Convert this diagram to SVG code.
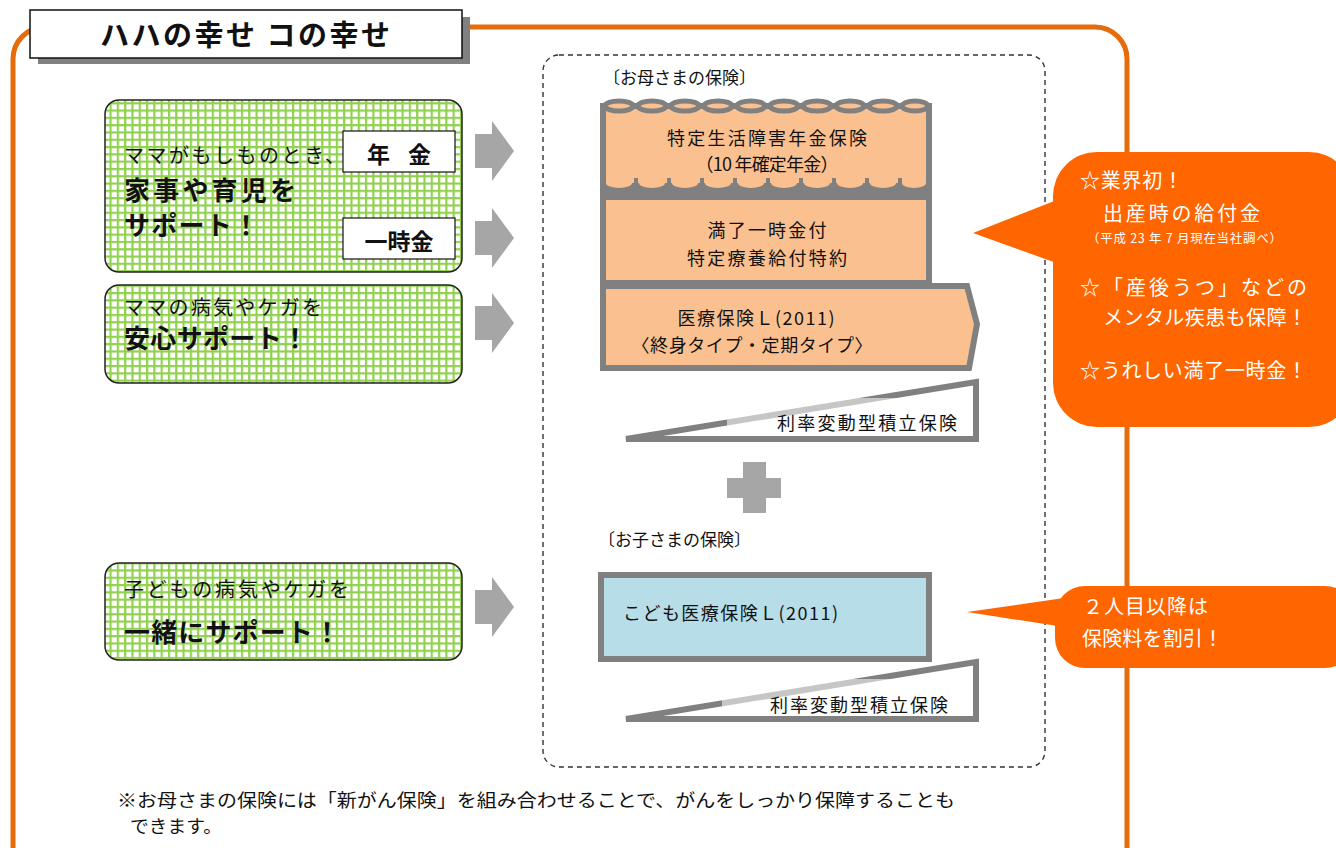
<svg xmlns="http://www.w3.org/2000/svg" width="1336" height="848" viewBox="0 0 1336 848">
<defs>
<pattern id="grid" patternUnits="userSpaceOnUse" width="7.3" height="7.3">
<rect width="7.3" height="7.3" fill="#ffffff"/>
<rect x="0" y="0" width="2.2" height="7.3" fill="#92D050"/>
<rect x="0" y="0" width="7.3" height="2.2" fill="#92D050"/>
</pattern>
<style>
text{font-family:"Noto Sans CJK JP","Noto Sans",sans-serif;fill:#111}
.g{fill:url(#grid);stroke:#222;stroke-width:1.5}
.r{font-size:20px}
.b{font-size:26px;font-weight:bold}
.lbl{fill:#fff;stroke:#111;stroke-width:1.2}
.lt{font-size:23px;font-weight:bold;text-anchor:middle}
.arr{fill:#A6A6A6}
.peach{fill:#FAC090;stroke:#808080;stroke-width:6}
.pt{font-size:18px;text-anchor:middle}
.wedge{fill:#fff;stroke:#808080;stroke-width:6;stroke-linejoin:miter}
.wt{font-size:18px}
.call{fill:#FF6600}
.ct{fill:#fff;font-size:20px}
.ctsm{fill:#fff;font-size:12.5px}
</style>
</defs>

<!-- outer frame -->
<rect x="13" y="27" width="1114" height="870" rx="32" fill="none" stroke="#E46C0A" stroke-width="5"/>

<!-- title -->
<g id="title">
<rect x="38" y="17" width="432" height="47" fill="#808080"/>
<rect x="30" y="10" width="432" height="48" fill="#fff" stroke="#111" stroke-width="1.5"/>
<text x="245" y="46" text-anchor="middle" font-size="29" font-weight="bold" textLength="290" lengthAdjust="spacing">ハハの幸せ コの幸せ</text>
</g>

<!-- dashed container -->
<rect x="543" y="55" width="502" height="712" rx="16" fill="none" stroke="#333" stroke-width="1.4" stroke-dasharray="5,4"/>

<!-- green box 1 -->
<g id="mama-support">
<rect class="g" x="105" y="100" width="357" height="172" rx="14"/>
<text class="r" x="124" y="163" textLength="221" lengthAdjust="spacing">ママがもしものとき、</text>
<text class="b" x="124" y="200" textLength="172" lengthAdjust="spacing">家事や育児を</text>
<text class="b" x="124" y="235" textLength="135" lengthAdjust="spacing">サポート！</text>
<rect class="lbl" x="343" y="131" width="112" height="41"/>
<text class="lt" x="399" y="163" textLength="64" lengthAdjust="spacing">年 金</text>
<rect class="lbl" x="343" y="218" width="112" height="41"/>
<text class="lt" x="399" y="250">一時金</text>
</g>

<!-- green box 2 -->
<g id="mama-medical">
<rect class="g" x="105" y="285" width="357" height="98" rx="14"/>
<text class="r" x="124" y="315" textLength="198" lengthAdjust="spacing">ママの病気やケガを</text>
<text class="b" x="124" y="348" textLength="184" lengthAdjust="spacing">安心サポート！</text>
</g>

<!-- green box 3 -->
<g id="child-support">
<rect class="g" x="105" y="563" width="357" height="97" rx="14"/>
<text class="r" x="124" y="597" textLength="225" lengthAdjust="spacing">子どもの病気やケガを</text>
<text class="b" x="124" y="642" textLength="216" lengthAdjust="spacing">一緒にサポート！</text>
</g>

<!-- connectors: gray arrows -->
<g id="connectors">
<path class="arr" d="M475,134 H492 V121 L514,151 L492,181 V168 H475 Z"/>
<path class="arr" d="M475,221 H492 V208 L514,238 L492,268 V255 H475 Z"/>
<path class="arr" d="M475,306 H492 V293 L514,323 L492,353 V340 H475 Z"/>
<path class="arr" d="M475,590 H492 V577 L514,607 L492,637 V624 H475 Z"/>
</g>

<text x="603" y="84" font-size="17">〔お母さまの保険〕</text>

<!-- scroll: pension -->
<g id="pension">
<rect x="603" y="106" width="326" height="80" fill="#FAC090" stroke="#808080" stroke-width="6"/>
<rect x="600" y="183" width="332" height="13" fill="#808080"/>
<g fill="#FAC090">
<ellipse cx="619" cy="183" rx="13" ry="5"/>
<ellipse cx="652" cy="183" rx="13" ry="5"/>
<ellipse cx="685" cy="183" rx="13" ry="5"/>
<ellipse cx="718" cy="183" rx="13" ry="5"/>
<ellipse cx="751" cy="183" rx="13" ry="5"/>
<ellipse cx="784" cy="183" rx="13" ry="5"/>
<ellipse cx="817" cy="183" rx="13" ry="5"/>
<ellipse cx="850" cy="183" rx="13" ry="5"/>
<ellipse cx="883" cy="183" rx="13" ry="5"/>
<ellipse cx="914" cy="183" rx="12" ry="5"/>
</g>
<g stroke="#808080" stroke-width="4">
<line x1="636" y1="178" x2="636" y2="190"/>
<line x1="669" y1="178" x2="669" y2="190"/>
<line x1="702" y1="178" x2="702" y2="190"/>
<line x1="735" y1="178" x2="735" y2="190"/>
<line x1="768" y1="178" x2="768" y2="190"/>
<line x1="801" y1="178" x2="801" y2="190"/>
<line x1="834" y1="178" x2="834" y2="190"/>
<line x1="867" y1="178" x2="867" y2="190"/>
<line x1="900" y1="178" x2="900" y2="190"/>
</g>
<g fill="#FAC090" stroke="#808080" stroke-width="5">
<ellipse cx="619" cy="106" rx="14" ry="5"/>
<ellipse cx="652" cy="106" rx="14" ry="5"/>
<ellipse cx="685" cy="106" rx="14" ry="5"/>
<ellipse cx="718" cy="106" rx="14" ry="5"/>
<ellipse cx="751" cy="106" rx="14" ry="5"/>
<ellipse cx="784" cy="106" rx="14" ry="5"/>
<ellipse cx="817" cy="106" rx="14" ry="5"/>
<ellipse cx="850" cy="106" rx="14" ry="5"/>
<ellipse cx="883" cy="106" rx="14" ry="5"/>
<ellipse cx="915" cy="106" rx="13" ry="5"/>
</g>
<text class="pt" x="767" y="145" textLength="200" lengthAdjust="spacing">特定生活障害年金保険</text>
<text class="pt" x="767" y="171" textLength="143" lengthAdjust="spacing">（10 年確定年金）</text>
</g>

<!-- lump sum rider -->
<g id="rider">
<rect class="peach" x="603" y="197" width="326" height="86"/>
<text class="pt" x="767" y="237" textLength="119" lengthAdjust="spacing">満了一時金付</text>
<text class="pt" x="767" y="265" textLength="160" lengthAdjust="spacing">特定療養給付特約</text>
</g>

<!-- medical insurance pentagon -->
<g id="medical">
<path class="peach" d="M603,286 H967 L977,324 L969,368 H603 Z"/>
<text class="pt" x="756" y="325" textLength="157" lengthAdjust="spacing">医療保険Ｌ(2011)</text>
<text class="pt" x="752" y="352" textLength="241" lengthAdjust="spacing">〈終身タイプ・定期タイプ〉</text>
</g>

<!-- savings wedge 1 -->
<g id="savings-mother">
<path class="wedge" d="M626,439 L976,382 V439 Z"/>
<rect x="727" y="398" width="246" height="38" fill="#fff" opacity="0.55"/>
<text class="wt" x="777" y="430" textLength="180" lengthAdjust="spacing">利率変動型積立保険</text>
</g>

<!-- plus -->
<g id="plus">
<rect x="743" y="462" width="23" height="51" fill="#A6A6A6"/>
<rect x="727" y="478" width="54" height="20" fill="#A6A6A6"/>
</g>

<text x="598" y="546" font-size="17">〔お子さまの保険〕</text>

<!-- child medical -->
<g id="child-medical">
<rect x="601" y="575" width="328" height="84" fill="#B7DDE8" stroke="#808080" stroke-width="6"/>
<text x="623" y="620" font-size="18" textLength="215" lengthAdjust="spacing">こども医療保険Ｌ(2011)</text>
</g>

<!-- savings wedge 2 -->
<g id="savings-child">
<path class="wedge" d="M626,719 L976,662 V719 Z"/>
<rect x="722" y="679" width="250" height="37" fill="#fff" opacity="0.55"/>
<text class="wt" x="770" y="712" textLength="178" lengthAdjust="spacing">利率変動型積立保険</text>
</g>

<!-- callout 1 -->
<g id="callout-mother">
<polygon class="call" points="1062,198 973,233 1062,265"/>
<rect class="call" x="1053" y="152" width="300" height="275" rx="44"/>
<text class="ct" x="1080" y="188" textLength="103" lengthAdjust="spacing">☆業界初！</text>
<text class="ct" x="1103" y="221" textLength="157" lengthAdjust="spacing">出産時の給付金</text>
<text class="ctsm" x="1087" y="243" textLength="195" lengthAdjust="spacing">（平成 23 年 7 月現在当社調べ）</text>
<text class="ct" x="1080" y="295" textLength="227" lengthAdjust="spacing">☆「産後うつ」などの</text>
<text class="ct" x="1103" y="325" textLength="204" lengthAdjust="spacing">メンタル疾患も保障！</text>
<text class="ct" x="1080" y="378" textLength="227" lengthAdjust="spacing">☆うれしい満了一時金！</text>
</g>

<!-- callout 2 -->
<g id="callout-child">
<polygon class="call" points="1064,598 967,612 1064,627"/>
<rect class="call" x="1055" y="586" width="300" height="82" rx="30"/>
<text class="ct" x="1083" y="614" textLength="125" lengthAdjust="spacing">２人目以降は</text>
<text class="ct" x="1082" y="646" textLength="141" lengthAdjust="spacing">保険料を割引！</text>
</g>

<!-- note -->
<g id="note">
<text x="117" y="807" font-size="18" textLength="838" lengthAdjust="spacingAndGlyphs">※お母さまの保険には「新がん保険」を組み合わせることで、がんをしっかり保障することも</text>
<text x="130" y="833" font-size="18" textLength="92" lengthAdjust="spacingAndGlyphs">できます。</text>
</g>
</svg>
